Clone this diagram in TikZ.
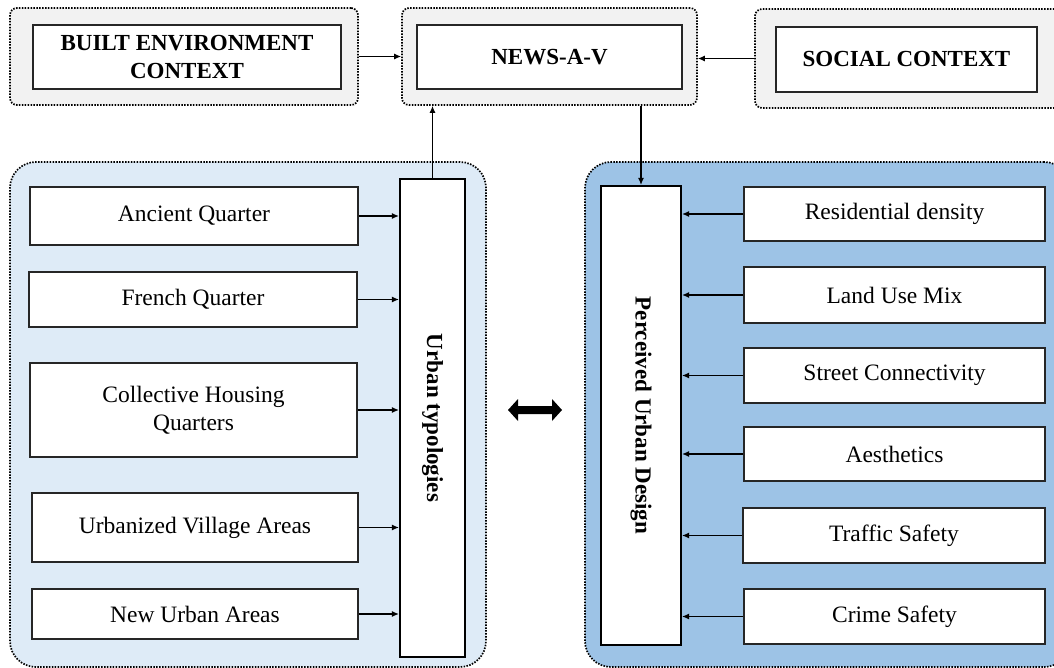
\documentclass[tikz,border=0pt]{standalone}
\usepackage{fontspec}
\setmainfont{Liberation Serif}
\usetikzlibrary{arrows.meta}
\definecolor{lightpanel}{HTML}{DEEBF7}
\definecolor{darkpanel}{HTML}{9DC3E6}
\definecolor{greypanel}{HTML}{F2F2F2}
\definecolor{edge}{HTML}{262626}
\tikzset{
  toppanel/.style={draw=black, line width=1.7pt, dash pattern=on 1.5pt off 1.4pt,
    fill=greypanel, rounded corners=7pt, inner sep=0pt},
  bigpanel/.style={draw=black, line width=1.7pt, dash pattern=on 1.5pt off 1.4pt,
    rounded corners=26pt, inner sep=0pt},
  itembox/.style={draw=edge, line width=1.2pt, fill=white, inner sep=2pt,
    align=center, font=\fontsize{23.5}{28}\selectfont},
  titlebox/.style={draw=edge, line width=1.2pt, fill=white, inner sep=2pt,
    align=center, font=\fontsize{23}{28}\selectfont\bfseries},
  hubbox/.style={draw=black, line width=2.2pt, fill=white, inner sep=0pt},
  hubtext/.style={rotate=-90, font=\fontsize{23}{28}\selectfont\bfseries},
  arr/.style={draw=black, line width=1.1pt, -{Latex[length=7pt,width=6pt]}}
}
\begin{document}
\begin{tikzpicture}[x=1pt,y=-1pt]
\useasboundingbox (0,0) rectangle (1054,668);
\clip (0,0) rectangle (1054,668);
\fill[white] (0,0) rectangle (1054,668);

% top panels
\node[toppanel, minimum width=348pt, minimum height=97pt] (bep) at (184,56.5) {};
\node[titlebox, minimum width=308pt, minimum height=64pt] (be) at (187,57) {BUILT ENVIRONMENT\\CONTEXT};
\node[toppanel, minimum width=295pt, minimum height=97pt] (newsp) at (549.5,56.5) {};
\node[titlebox, minimum width=265pt, minimum height=64pt] (news) at (549.5,57) {NEWS-A-V};
\node[toppanel, minimum width=315pt, minimum height=99pt] (socp) at (912.5,58.5) {};
\node[titlebox, minimum width=261pt, minimum height=65pt] (soc) at (906.5,59.5) {SOCIAL CONTEXT};

% big panels
\node[bigpanel, fill=lightpanel, minimum width=476pt, minimum height=505pt] (leftp) at (248,414.5) {};
\node[bigpanel, fill=darkpanel, minimum width=485pt, minimum height=505pt] (rightp) at (827.5,414.5) {};

% hubs
\node[hubbox, minimum width=65pt, minimum height=478pt] (typ) at (432.5,418) {};
\node[hubtext] (typt) at (typ.center) {Urban typologies};
\node[hubbox, minimum width=80pt, minimum height=459pt] (perc) at (641,415.5) {};
\node[hubtext] (perct) at (perc.center) {Perceived Urban Design};

% left items
\node[itembox, minimum width=328pt, minimum height=58pt] (anc) at (194,216) {Ancient Quarter};
\node[itembox, minimum width=328pt, minimum height=55pt] (fre) at (193,299.5) {French Quarter};
\node[itembox, minimum width=327pt, minimum height=94pt] (col) at (193.5,410) {Collective Housing\\Quarters};
\node[itembox, minimum width=326pt, minimum height=69pt] (urb) at (195,527.5) {Urbanized Village Areas};
\node[itembox, minimum width=326pt, minimum height=50pt] (nua) at (195,614) {New Urban Areas};

% right items
\node[itembox, minimum width=301pt, minimum height=54pt] (res) at (894.5,214) {Residential density};
\node[itembox, minimum width=301pt, minimum height=56pt] (lan) at (894.5,295) {Land Use Mix};
\node[itembox, minimum width=301pt, minimum height=55pt] (str) at (894.5,375.5) {Street Connectivity};
\node[itembox, minimum width=301pt, minimum height=54pt] (aes) at (894.5,454) {Aesthetics};
\node[itembox, minimum width=302pt, minimum height=55pt] (tra) at (894,535.5) {Traffic Safety};
\node[itembox, minimum width=301pt, minimum height=55pt] (cri) at (894.5,616.5) {Crime Safety};

% connectors
\draw[arr] (bep.east) -- (bep.east -| newsp.west);
\draw[arr] (socp.west) -- (socp.west -| newsp.east);
\draw[arr] (typ.north) -- (typ.north |- newsp.south);
\draw[arr] (newsp.south -| perc.north) -- (perc.north);

\foreach \n in {anc,fre,col,urb,nua}
  \draw[arr] (\n.east) -- (\n.east -| typ.west);
\foreach \n in {res,lan,str,aes,tra,cri}
  \draw[arr] (\n.west) -- (\n.west -| perc.east);

% double arrow between panels
\fill[black] (508,410) -- (518,399) -- (518,406) -- (552,406) -- (552,399)
  -- (562,410) -- (552,421) -- (552,414) -- (518,414) -- (518,421) -- cycle;
\end{tikzpicture}
\end{document}
